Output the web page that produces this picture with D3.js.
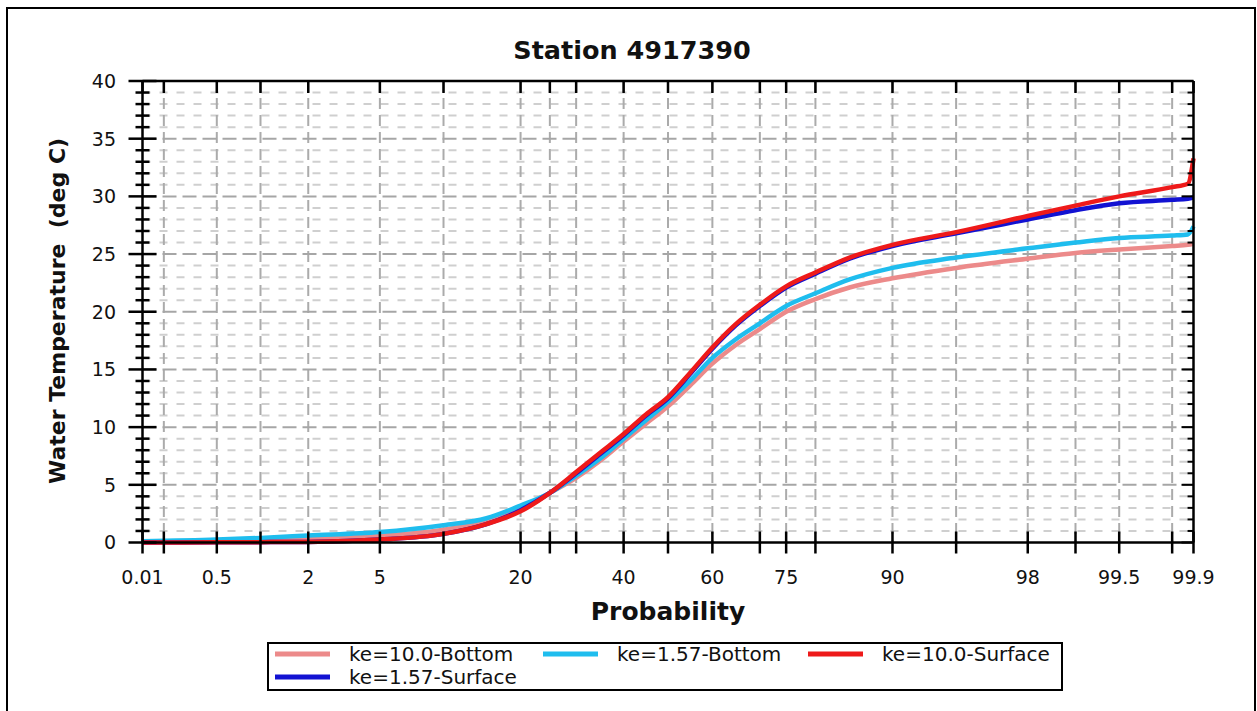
<!DOCTYPE html>
<html>
<head>
<meta charset="utf-8">
<script src="https://cdn.jsdelivr.net/npm/d3@7"></script>
<style>
  html, body { margin: 0; padding: 0; background: #fff; }
  svg { display: block; font-family: "DejaVu Sans", Verdana, sans-serif; }
  text { white-space: pre; }
</style>
</head>
<body>
<svg id="chart" width="1257" height="711"></svg>
<script>
// Exceedance probabilities (percent) at which the curves are sampled
const probs = [0.135, 0.5, 1, 2, 5, 10, 15, 20, 25, 30, 35, 40, 45, 50, 55, 60, 65, 70, 75, 80, 85, 90, 95, 98, 99, 99.5, 99.8, 99.85, 99.865];

// Water temperature (deg C) for each scenario
const bottomKe10  = [0.05, 0.15, 0.25, 0.4, 0.6, 1.1, 1.9, 3.0, 4.3, 5.6, 7.1, 8.75, 10.3, 11.8, 13.6, 15.5, 17.1, 18.5, 20.0, 21.1, 22.1, 22.9, 23.8, 24.6, 25.1, 25.4, 25.7, 25.8, 25.9];
const bottomKe157 = [0.1, 0.25, 0.4, 0.6, 0.9, 1.5, 2.1, 3.2, 4.3, 5.8, 7.3, 9.0, 10.6, 12.2, 14.0, 16.0, 17.6, 19.0, 20.5, 21.6, 22.8, 23.8, 24.7, 25.5, 26.0, 26.4, 26.6, 26.7, 27.4];
const surfKe10    = [0.0, 0.02, 0.03, 0.05, 0.25, 0.75, 1.6, 2.7, 4.3, 6.1, 7.8, 9.4, 11.1, 12.6, 14.7, 16.9, 18.9, 20.6, 22.2, 23.4, 24.7, 25.8, 26.9, 28.3, 29.2, 30.0, 30.8, 31.1, 33.3];
const surfKe157   = [0.0, 0.02, 0.03, 0.05, 0.25, 0.75, 1.6, 2.8, 4.3, 6.0, 7.7, 9.3, 11.0, 12.5, 14.6, 16.8, 18.8, 20.5, 22.1, 23.3, 24.6, 25.7, 26.8, 28.0, 28.8, 29.4, 29.7, 29.8, 29.9];

const seriesNames  = ["ke=10.0-Bottom", "ke=1.57-Bottom", "ke=10.0-Surface", "ke=1.57-Surface"];
const seriesColors = ["#ec8a8a", "#1fbdee", "#ee1a1a", "#1212d2"];
const seriesValues = [bottomKe10, bottomKe157, surfKe10, surfKe157];
// drawing order: bottoms underneath, surface curves on top
const drawOrder = [0, 1, 3, 2];

// Probability axis ticks and their labels (ends of the axis carry the extreme labels)
const xTickProbs  = [0.135, 0.2, 0.5, 1, 2, 5, 10, 20, 25, 30, 40, 50, 60, 70, 75, 80, 90, 95, 98, 99, 99.5, 99.8, 99.865];
const xTickLabels = ["0.01", "", "0.5", "", "2", "5", "", "20", "", "", "40", "", "60", "", "75", "", "90", "", "98", "", "99.5", "", "99.9"];
const yMajorTicks = [0, 5, 10, 15, 20, 25, 30, 35, 40];

const titleText  = "Station 4917390";
const xTitleText = "Probability";
const yTitleText = "Water Temperature  (deg C)";

// Inverse standard normal CDF (Acklam's rational approximation)
function probit(p) {
  const a = [-3.969683028665376e+01, 2.209460984245205e+02, -2.759285104469687e+02, 1.383577518672690e+02, -3.066479806614716e+01, 2.506628277459239e+00];
  const b = [-5.447609879822406e+01, 1.615858368580409e+02, -1.556989798598866e+02, 6.680131188771972e+01, -1.328068155288572e+01];
  const c = [-7.784894002430293e-03, -3.223964580411365e-01, -2.400758277161838e+00, -2.549732539343734e+00, 4.374664141464968e+00, 2.938163982698783e+00];
  const d = [7.784695709041462e-03, 3.224671290700398e-01, 2.445134137142996e+00, 3.754408661907416e+00];
  const pl = 0.02425, ph = 1 - pl;
  let q, r;
  if (p < pl) {
    q = Math.sqrt(-2 * Math.log(p));
    return (((((c[0]*q+c[1])*q+c[2])*q+c[3])*q+c[4])*q+c[5]) / ((((d[0]*q+d[1])*q+d[2])*q+d[3])*q+1);
  }
  if (p <= ph) {
    q = p - 0.5; r = q * q;
    return (((((a[0]*r+a[1])*r+a[2])*r+a[3])*r+a[4])*r+a[5])*q / (((((b[0]*r+b[1])*r+b[2])*r+b[3])*r+b[4])*r+1);
  }
  q = Math.sqrt(-2 * Math.log(1 - p));
  return -(((((c[0]*q+c[1])*q+c[2])*q+c[3])*q+c[4])*q+c[5]) / ((((d[0]*q+d[1])*q+d[2])*q+d[3])*q+1);
}

const svg = d3.select("#chart");
const plot = { left: 142.5, right: 1193.5, top: 81, bottom: 542.5 };

// outer frame
svg.append("rect").attr("x", 7).attr("y", 8).attr("width", 1248).attr("height", 720)
  .attr("fill", "#fff").attr("stroke", "#000").attr("stroke-width", 2);

// scales: normal-probability x axis, linear temperature y axis
const zScale = d3.scaleLinear().domain([-3, 3]).range([plot.left, plot.right]);
const x = p => zScale(probit(p / 100));
const y = d3.scaleLinear().domain([0, 40]).range([plot.bottom, plot.top]);

// grid
const grid = svg.append("g");
const yMinor = d3.range(1, 40).filter(v => v % 5 !== 0);
grid.selectAll("line.ymin").data(yMinor).join("line")
  .attr("x1", plot.left).attr("x2", plot.right)
  .attr("y1", d => y(d)).attr("y2", d => y(d))
  .attr("stroke", "#cfcfcf").attr("stroke-width", 2).attr("stroke-dasharray", "8,9");
grid.selectAll("line.xg").data(xTickProbs.slice(1, -1)).join("line")
  .attr("x1", d => x(d)).attr("x2", d => x(d))
  .attr("y1", plot.top).attr("y2", plot.bottom)
  .attr("stroke", "#ababab").attr("stroke-width", 2).attr("stroke-dasharray", "11,6");
grid.selectAll("line.ymaj").data(yMajorTicks.slice(1, -1)).join("line")
  .attr("x1", plot.left).attr("x2", plot.right)
  .attr("y1", d => y(d)).attr("y2", d => y(d))
  .attr("stroke", "#a6a6a6").attr("stroke-width", 2).attr("stroke-dasharray", "14,6");

// curves
const line = d3.line().x((d, i) => x(probs[i])).y(d => y(d)).curve(d3.curveMonotoneX);
const curves = svg.append("g");
drawOrder.forEach(k => {
  curves.append("path").datum(seriesValues[k])
    .attr("d", line).attr("fill", "none")
    .attr("stroke", seriesColors[k]).attr("stroke-width", 4.5)
    .attr("stroke-linejoin", "round");
});

// axes frame and ticks
const axes = svg.append("g").attr("stroke", "#000");
const yAxis = d3.axisLeft(y).tickValues(d3.range(0, 41)).tickSize(0).tickFormat("");
axes.append("g").attr("transform", `translate(${plot.left},0)`).call(yAxis)
  .call(g => g.select(".domain").remove());
axes.append("line").attr("x1", plot.left).attr("x2", plot.left).attr("y1", plot.top).attr("y2", plot.bottom).attr("stroke-width", 2.5);
axes.append("line").attr("x1", plot.right).attr("x2", plot.right).attr("y1", plot.top).attr("y2", plot.bottom).attr("stroke-width", 2.5);
axes.append("line").attr("x1", plot.left).attr("x2", plot.right).attr("y1", plot.top).attr("y2", plot.top).attr("stroke-width", 2.5);
axes.append("line").attr("x1", plot.left).attr("x2", plot.right).attr("y1", plot.bottom).attr("y2", plot.bottom).attr("stroke-width", 2.5);

d3.range(0, 41).forEach(v => {
  const major = v % 5 === 0;
  const yy = y(v);
  axes.append("line").attr("x1", plot.left - (major ? 14 : 7)).attr("x2", plot.left + (major ? 14 : 7))
    .attr("y1", yy).attr("y2", yy).attr("stroke-width", 2.5);
  axes.append("line").attr("x1", plot.right - (major ? 12 : 6)).attr("x2", plot.right)
    .attr("y1", yy).attr("y2", yy).attr("stroke-width", 2);
});
xTickProbs.forEach(p => {
  const xx = x(p);
  axes.append("line").attr("x1", xx).attr("x2", xx)
    .attr("y1", plot.bottom - 11).attr("y2", plot.bottom + 11).attr("stroke-width", 2.5);
  axes.append("line").attr("x1", xx).attr("x2", xx)
    .attr("y1", plot.top).attr("y2", plot.top + 12).attr("stroke-width", 2.5);
});

// tick labels
const labels = svg.append("g").attr("fill", "#111").attr("font-size", 19);
yMajorTicks.forEach(v => {
  labels.append("text").attr("x", 116).attr("y", y(v)).attr("dy", "0.36em")
    .attr("text-anchor", "end").text(v);
});
xTickProbs.forEach((p, i) => {
  if (!xTickLabels[i]) return;
  labels.append("text").attr("x", x(p)).attr("y", 584)
    .attr("text-anchor", "middle").text(xTickLabels[i]);
});

// titles
svg.append("text").attr("x", 632).attr("y", 59).attr("text-anchor", "middle")
  .attr("font-size", 25.5).attr("font-weight", "bold").attr("fill", "#111").text(titleText);
svg.append("text").attr("x", 668).attr("y", 620).attr("text-anchor", "middle")
  .attr("font-size", 25).attr("font-weight", "bold").attr("fill", "#111").text(xTitleText);
svg.append("text").attr("transform", "translate(65,311) rotate(-90)").attr("text-anchor", "middle")
  .attr("font-size", 22).attr("font-weight", "bold").attr("fill", "#111").text(yTitleText);

// legend
const legend = svg.append("g");
legend.append("rect").attr("x", 268).attr("y", 643).attr("width", 794).attr("height", 47)
  .attr("fill", "#fff").attr("stroke", "#000").attr("stroke-width", 2);
const legendPos = [[275, 654], [543, 654], [808, 654], [275, 677]];
seriesNames.forEach((name, k) => {
  const [lx, ly] = legendPos[k];
  legend.append("line").attr("x1", lx).attr("x2", lx + 55).attr("y1", ly).attr("y2", ly)
    .attr("stroke", seriesColors[k]).attr("stroke-width", 5);
  legend.append("text").attr("x", lx + 74).attr("y", ly).attr("dy", "0.36em")
    .attr("font-size", 20).attr("fill", "#111").text(name);
});
</script>
</body>
</html>
